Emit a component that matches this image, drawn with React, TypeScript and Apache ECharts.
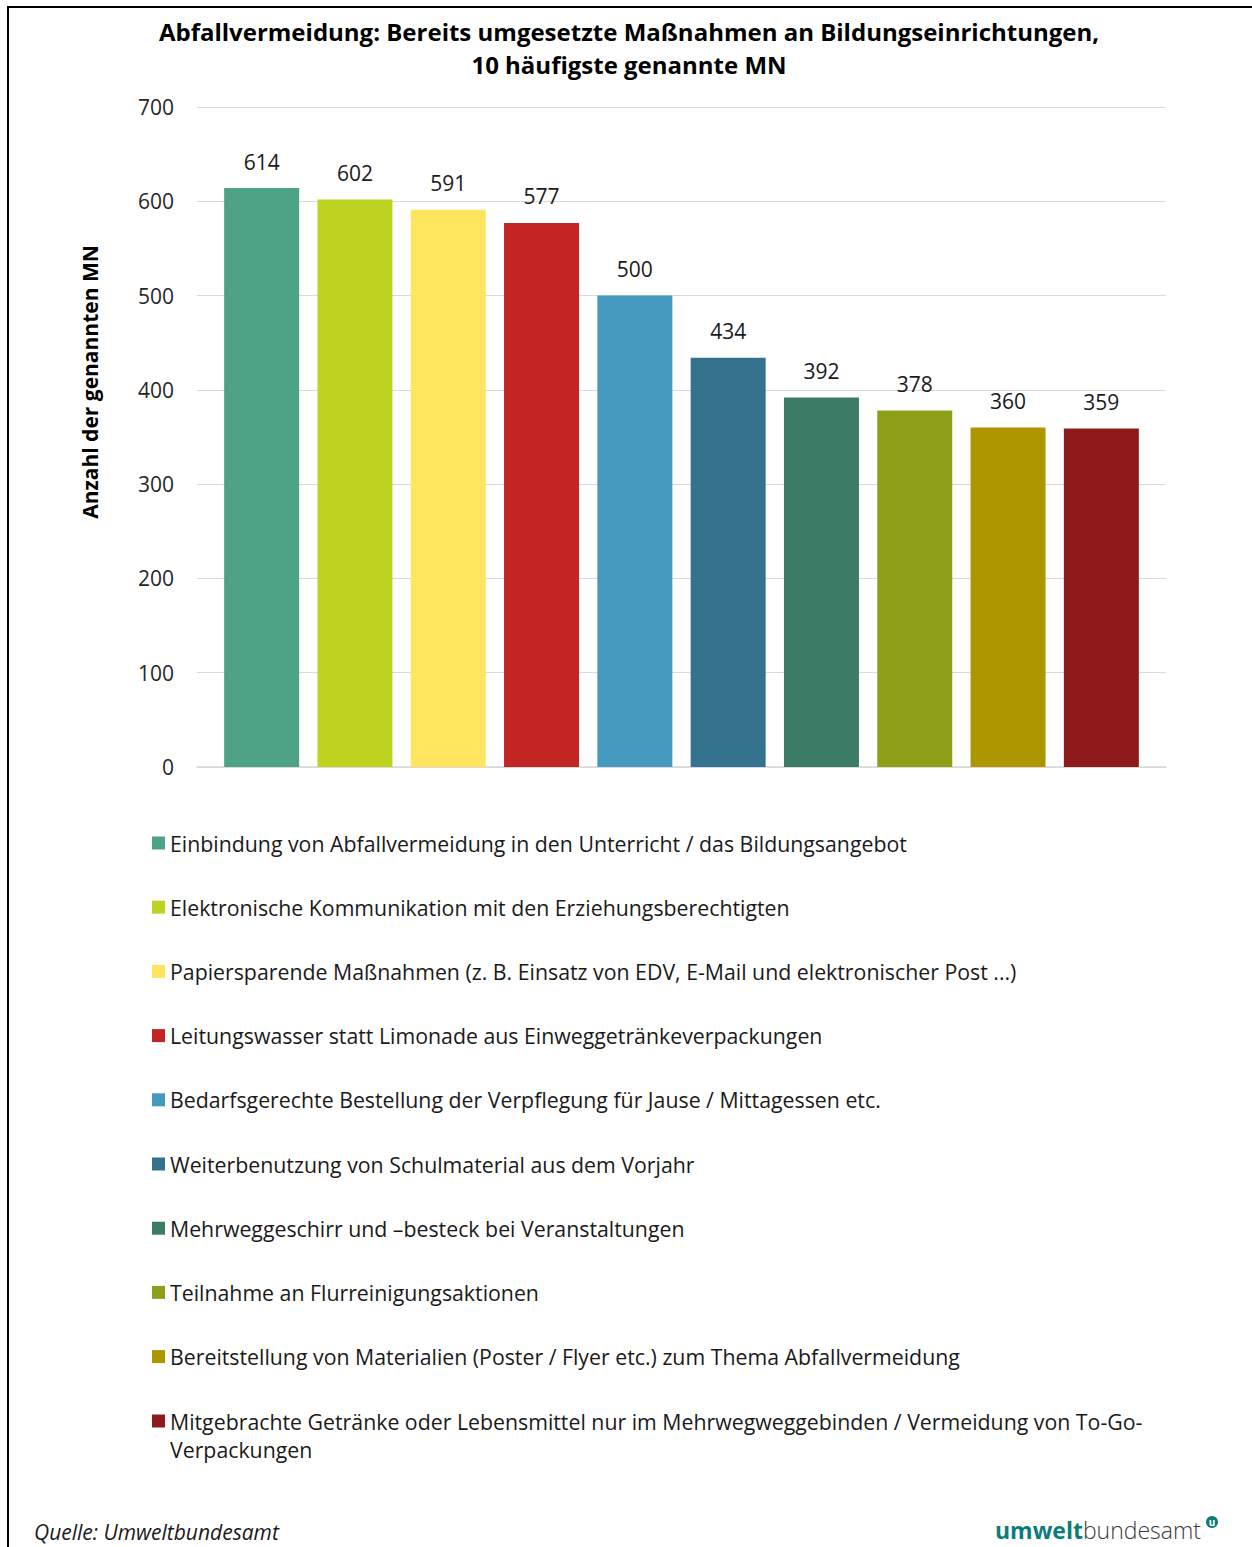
import React, { useEffect, useRef } from "react";
import * as echarts from "echarts";

const categories = [
  "Einbindung von Abfallvermeidung in den Unterricht / das Bildungsangebot",
  "Elektronische Kommunikation mit den Erziehungsberechtigten",
  "Papiersparende Maßnahmen (z. B. Einsatz von EDV, E-Mail und elektronischer Post ...)",
  "Leitungswasser statt Limonade aus Einweggetränkeverpackungen",
  "Bedarfsgerechte Bestellung der Verpflegung für Jause / Mittagessen etc.",
  "Weiterbenutzung von Schulmaterial aus dem Vorjahr",
  "Mehrweggeschirr und –besteck bei Veranstaltungen",
  "Teilnahme an Flurreinigungsaktionen",
  "Bereitstellung von Materialien (Poster / Flyer etc.) zum Thema Abfallvermeidung",
  "Mitgebrachte Getränke oder Lebensmittel nur im Mehrwegweggebinden / Vermeidung von To-Go-Verpackungen",
];
const values = [614, 602, 591, 577, 500, 434, 392, 378, 360, 359];
const colors = [
  "#4EA387",
  "#BFD420",
  "#FFE55E",
  "#C32424",
  "#4599BF",
  "#35728D",
  "#3C7C67",
  "#8E9F1A",
  "#AE9600",
  "#8F1A1C",
];
const yTicks = { min: 0, max: 700, interval: 100 };
const title = "Abfallvermeidung: Bereits umgesetzte Maßnahmen an Bildungseinrichtungen,\n10 häufigste genannte MN";
const yAxisTitle = "Anzahl der genannten MN";
const source = "Quelle: Umweltbundesamt";

const FONT = "'Open Sans', 'Noto Sans', sans-serif";
const FS = 21;

export default function App() {
  const ref = useRef<HTMLDivElement>(null);
  useEffect(() => {
    document.body.style.margin = "0";
    if (!ref.current) return;
    const chart = echarts.init(ref.current, null, { renderer: "svg" });
    const series = categories.map((name, i) => ({
      name,
      type: "bar",
      stack: "total",
      xAxisIndex: 0,
      yAxisIndex: 0,
      barWidth: 75,
      itemStyle: { color: colors[i] },
      label: {
        show: true,
        position: "top",
        distance: 16,
        fontSize: FS,
        fontFamily: FONT,
        color: "#1a1a1a",
      },
      data: values.map((v, j) => (j === i ? v : "-")),
    }));
    const lastIdx = categories.length - 1;
    const legendText = { fontSize: 21.3, lineHeight: 28, fontFamily: FONT, color: "#1a1a1a" };
    chart.setOption({
      animation: false,
      textStyle: { fontFamily: FONT },
      title: {
        text: title,
        left: 624,
        top: 10,
        textAlign: "center",
        textStyle: {
          fontFamily: FONT,
          fontSize: 24,
          fontWeight: "bold",
          lineHeight: 33,
          color: "#000",
        },
      },
      grid: [
        { left: 215, right: 104, top: 107, bottom: 780, containLabel: false },
        { left: 197, right: 86, top: 107, bottom: 780, containLabel: false },
      ],
      xAxis: [
        {
          type: "category",
          gridIndex: 0,
          data: categories,
          axisLabel: { show: false },
          axisTick: { show: false },
          axisLine: { show: false },
        },
        {
          type: "value",
          gridIndex: 1,
          min: 0,
          max: 1,
          axisLabel: { show: false },
          axisTick: { show: false },
          splitLine: { show: false },
          axisLine: { show: true, lineStyle: { color: "#d9d9d9", width: 1.5 } },
        },
      ],
      yAxis: [
        {
          type: "value",
          gridIndex: 0,
          min: yTicks.min,
          max: yTicks.max,
          interval: yTicks.interval,
          axisLabel: { show: false },
          splitLine: { show: false },
          axisLine: { show: false },
          axisTick: { show: false },
        },
        {
          type: "value",
          gridIndex: 1,
          min: yTicks.min,
          max: yTicks.max,
          interval: yTicks.interval,
          axisLabel: { fontSize: FS, fontFamily: FONT, color: "#262626", margin: 23 },
          splitLine: { lineStyle: { color: "#d9d9d9", width: 1 } },
          axisLine: { show: false },
          axisTick: { show: false },
        },
      ],
      legend: [
        {
          orient: "vertical",
          left: 147,
          top: 824,
          itemWidth: 13,
          itemHeight: 13,
          itemGap: 36.2,
          icon: "rect",
          selectedMode: false,
          data: categories.slice(0, lastIdx),
          textStyle: legendText,
        },
        {
          orient: "vertical",
          left: 147,
          top: 1374,
          itemWidth: 13,
          itemHeight: 13,
          icon: "rect",
          selectedMode: false,
          data: [categories[lastIdx]],
          formatter: () =>
            "\nMitgebrachte Getränke oder Lebensmittel nur im Mehrwegweggebinden / Vermeidung von To-Go-\nVerpackungen",
          textStyle: legendText,
        },
      ],
      graphic: [
        {
          type: "rect",
          shape: { x: 8, y: 7, width: 1300, height: 1600 },
          style: { fill: "none", stroke: "#000", lineWidth: 2 },
          silent: true,
        },
        {
          type: "text",
          x: 90,
          y: 382,
          rotation: Math.PI / 2,
          style: {
            text: yAxisTitle,
            fontSize: FS,
            fontWeight: "bold",
            fontFamily: FONT,
            fill: "#000",
            align: "center",
            verticalAlign: "middle",
          },
        },
        {
          type: "text",
          x: 34,
          y: 1532,
          style: {
            text: source,
            fontSize: FS,
            lineHeight: 24,
            fontStyle: "italic",
            fontFamily: FONT,
            fill: "#1a1a1a",
            align: "left",
            verticalAlign: "middle",
          },
        },
        {
          type: "text",
          x: 1201,
          y: 1530,
          style: {
            text: "{a|umwelt}{b|bundesamt}",
            align: "right",
            verticalAlign: "middle",
            rich: {
              a: { fontSize: 23, lineHeight: 24, fontWeight: "bold", fontFamily: FONT, fill: "#0c7c78", color: "#0c7c78" },
              b: { fontSize: 23, lineHeight: 24, fontWeight: 300, fontFamily: FONT, fill: "#3a3a3a", color: "#3a3a3a" },
            },
          },
        },
        {
          type: "circle",
          shape: { cx: 1212, cy: 1522, r: 6 },
          style: { fill: "#0c7c78" },
        },
        {
          type: "text",
          x: 1212,
          y: 1522,
          style: {
            text: "u",
            fontSize: 10,
            fontWeight: "bold",
            fontFamily: FONT,
            fill: "#fff",
            align: "center",
            verticalAlign: "middle",
          },
        },
      ],
      series,
    });
    return () => chart.dispose();
  }, []);
  return <div ref={ref} style={{ width: 1252, height: 1547 }} />;
}
